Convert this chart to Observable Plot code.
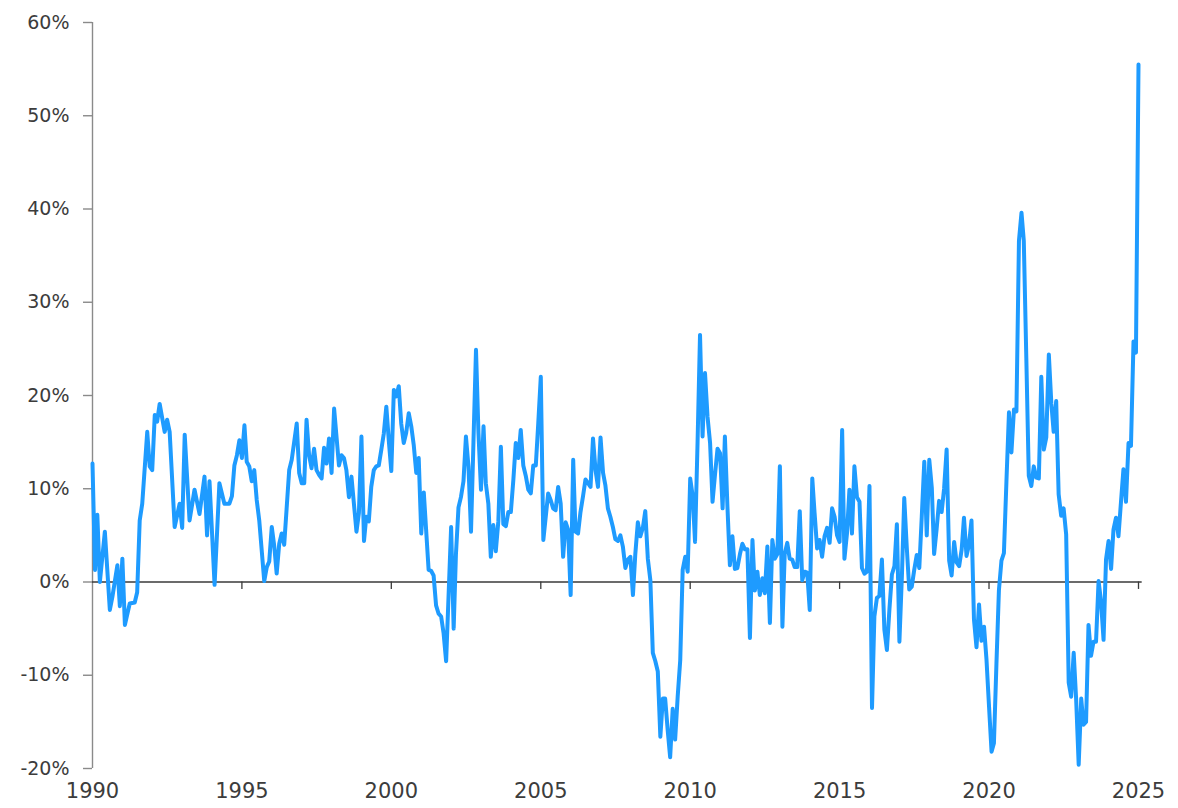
<!DOCTYPE html>
<html>
<head>
<meta charset="utf-8">
<script src="https://cdn.jsdelivr.net/npm/d3@7"></script>
<script src="https://cdn.jsdelivr.net/npm/@observablehq/plot@0.6"></script>
<style>
  html, body { margin: 0; padding: 0; background: #fff; }
  #chart { width: 1178px; height: 808px; }
</style>
</head>
<body>
<div id="chart"></div>
<script>
// Month offsets from January 1990 and the year-over-year change (%)
const monthOffsets = [
  0,1,2,3,5,7,8,10,11,12,13,15,17,18,19,20,22,23,24,25,26,27,29,30,31,33,35,36,37,39,41,43,45,46,47,49,
  51,53,55,56,57,58,59,60,61,62,63,64,65,66,67,69,70,71,72,73,74,75,76,77,79,80,82,83,84,85,86,87,88,89,
  90,91,92,93,94,95,96,97,99,100,101,102,103,104,106,107,108,109,110,111,112,113,114,115,116,117,118,119,
  120,121,122,123,124,125,126,127,128,129,130,131,132,133,135,136,137,138,139,140,141,142,144,145,146,147,
  148,149,150,151,152,153,154,155,156,157,158,159,160,161,162,163,164,165,166,167,168,169,170,171,172,173,
  174,175,176,177,178,179,180,181,183,184,185,186,187,188,189,190,191,192,193,194,195,196,197,198,199,200,
  201,202,203,204,205,206,207,208,209,210,211,212,213,214,215,216,217,218,219,220,221,222,223,224,225,226,
  227,228,229,230,231,232,233,234,235,236,237,238,239,240,241,242,243,244,245,246,247,248,249,250,251,252,
  253,254,255,256,257,258,259,260,261,262,263,264,265,266,267,268,269,270,271,272,273,274,275,276,277,278,
  279,280,281,282,283,284,285,286,287,288,289,290,291,292,293,294,295,296,297,298,299,300,301,302,303,304,
  305,306,307,308,309,310,311,312,313,314,315,316,317,318,319,320,321,322,323,324,325,326,327,328,329,330,
  331,332,333,334,335,336,337,338,339,340,341,342,343,344,345,346,347,348,349,350,351,352,353,354,355,356,
  357,358,359,360,361,362,363,364,365,366,367,368,369,370,371,372,373,374,375,376,377,378,379,380,381,382,
  383,384,385,386,387,388,389,390,391,392,393,394,395,396,397,398,399,400,401,402,403,404,405,406,407,408,
  409,410,411,412,413,414,415,416,417,418,419,420,421
];
const changePct = [
  12.7,1.3,7.2,0.0,5.4,-3.0,-1.6,1.8,-2.6,2.5,-4.6,-2.3,-2.2,-1.1,6.6,8.4,16.1,12.4,12.0,17.9,17.2,19.1,16.1,17.4,16.1,5.9,8.4,5.8,15.8,6.6,9.9,7.3,11.3,5.0,10.8,-0.3,
  10.6,8.4,8.4,9.2,12.5,13.6,15.2,13.3,16.8,12.9,12.4,10.8,12.0,8.8,6.6,0.1,1.6,2.2,5.9,3.8,0.9,4.1,5.2,4.0,12.0,13.1,17.0,11.7,10.6,10.6,17.4,13.6,12.2,14.3,
  12.0,11.5,11.1,14.4,12.7,15.4,11.7,18.6,12.5,13.6,13.3,12.0,9.1,11.3,5.4,7.4,15.6,4.4,7.0,6.5,10.2,12.0,12.4,12.5,14.2,15.9,18.8,15.2,
  11.9,20.6,19.9,21.0,17.0,14.9,16.0,18.1,16.7,14.7,11.7,13.3,5.2,9.6,1.3,1.2,0.7,-2.5,-3.4,-3.7,-5.5,-8.5,5.9,-5.0,3.0,8.0,
  9.1,10.8,15.6,12.4,5.4,15.0,24.9,16.0,9.9,16.7,10.6,8.4,2.7,6.1,3.3,6.5,14.5,6.2,6.0,7.5,7.5,11.0,14.9,13.3,16.3,12.5,
  11.4,9.9,9.5,12.5,12.5,17.0,22.0,4.5,9.5,8.8,7.9,7.7,10.2,8.4,2.7,6.4,5.6,-1.4,13.1,5.4,5.2,7.5,9.2,11.0,10.6,10.2,
  15.4,12.0,10.2,15.5,11.7,10.4,7.9,7.0,5.9,4.6,4.4,5.0,3.8,1.5,2.4,2.7,-1.4,3.0,6.4,4.9,5.8,7.6,2.5,0.2,-7.6,-8.5,
  -9.6,-16.6,-12.5,-12.5,-15.9,-18.8,-13.6,-16.9,-12.3,-8.4,1.3,2.7,1.1,11.1,9.2,4.3,15.0,26.5,15.6,22.4,17.7,14.9,8.6,11.6,14.3,13.8,
  7.9,15.6,8.1,1.8,4.9,1.4,1.5,3.0,4.1,3.5,3.5,-6.0,4.5,-0.9,1.1,-1.4,0.4,-1.2,3.8,-4.4,4.5,2.5,3.0,12.4,-4.8,3.0,
  4.2,2.5,2.4,1.6,1.6,7.6,0.2,1.1,1.0,-3.0,11.1,7.4,3.6,4.5,2.7,4.9,5.8,4.2,7.9,7.0,5.0,4.3,16.3,2.5,5.2,9.9,
  5.2,12.4,9.1,8.6,1.5,0.9,1.1,10.3,-13.5,-3.7,-1.7,-1.5,2.4,-5.1,-7.3,-2.9,0.8,1.7,6.2,-6.4,0.8,9.0,3.7,-0.8,-0.5,1.3,
  2.9,1.5,7.0,12.9,5.0,13.1,10.1,3.0,5.7,8.7,7.5,10.0,14.2,2.3,0.7,4.3,2.1,1.7,3.5,6.9,2.8,4.0,6.6,-4.0,-7.0,
  -2.4,-6.3,-4.8,-8.3,-13.3,-18.2,-17.3,-8.7,-0.9,2.3,3.1,10.8,18.2,13.9,18.5,18.3,36.6,39.6,36.6,24.0,11.4,10.3,12.4,11.2,11.1,22.0,
  14.2,15.5,24.4,19.1,16.1,19.4,9.4,7.1,7.9,5.1,-10.8,-12.3,-7.6,-12.6,-19.6,-12.5,-15.3,-15.0,-4.6,-7.9,-6.4,-6.4,0.1,-2.1,-6.2,2.4,
  4.4,1.4,5.6,6.9,4.9,8.6,12.1,8.6,14.9,14.6,25.8,24.6,55.5
];
const yTicks = [-20, -10, 0, 10, 20, 30, 40, 50, 60];
const xTickYears = [1990, 1995, 2000, 2005, 2010, 2015, 2020, 2025];

const data = monthOffsets.map((m, i) => ({
  date: new Date(Date.UTC(1990, m, 1)),
  value: changePct[i]
}));
const xTicks = xTickYears.map(y => new Date(Date.UTC(y, 0, 1)));
const start = new Date(Date.UTC(1990, 0, 1));
const end = new Date(Date.UTC(2025, 0, 1));

const chart = Plot.plot({
  width: 1178,
  height: 808,
  marginLeft: 92,
  marginRight: 40,
  marginTop: 22,
  marginBottom: 40,
  style: { fontFamily: "'DejaVu Sans', Verdana, sans-serif", background: "#fff", color: "#3c3c3c" },
  x: { type: "utc", domain: [start, end], label: null },
  y: { domain: [-20, 60], label: null },
  marks: [
    Plot.axisY({
      ticks: yTicks,
      tickFormat: d => d + "%",
      tickSize: 9,
      tickPadding: 14,
      stroke: "#8a8a8a",
      strokeWidth: 1.4,
      fontSize: 19,
      fill: "#3c3c3c",
      label: null
    }),
    Plot.ruleX([start], { y1: -20, y2: 60, stroke: "#8a8a8a", strokeWidth: 1.4 }),
    Plot.axisX({
      ticks: xTicks,
      tickFormat: d3.utcFormat("%Y"),
      tickSize: 0,
      tickPadding: 15,
      fontSize: 21,
      fill: "#3c3c3c",
      label: null
    }),
    Plot.ruleY([0], { x1: start, x2: new Date(Date.UTC(2025, 1, 15)), stroke: "#3a3a3a", strokeWidth: 1.3 }),
    Plot.ruleX(xTicks.slice(1), { y1: 0, y2: -0.8, stroke: "#3a3a3a", strokeWidth: 1.3 }),
    Plot.line(data, { x: "date", y: "value", stroke: "#1e9bff", strokeWidth: 4, strokeLinejoin: "round", strokeLinecap: "round" })
  ]
});
document.getElementById("chart").appendChild(chart);
</script>
</body>
</html>
